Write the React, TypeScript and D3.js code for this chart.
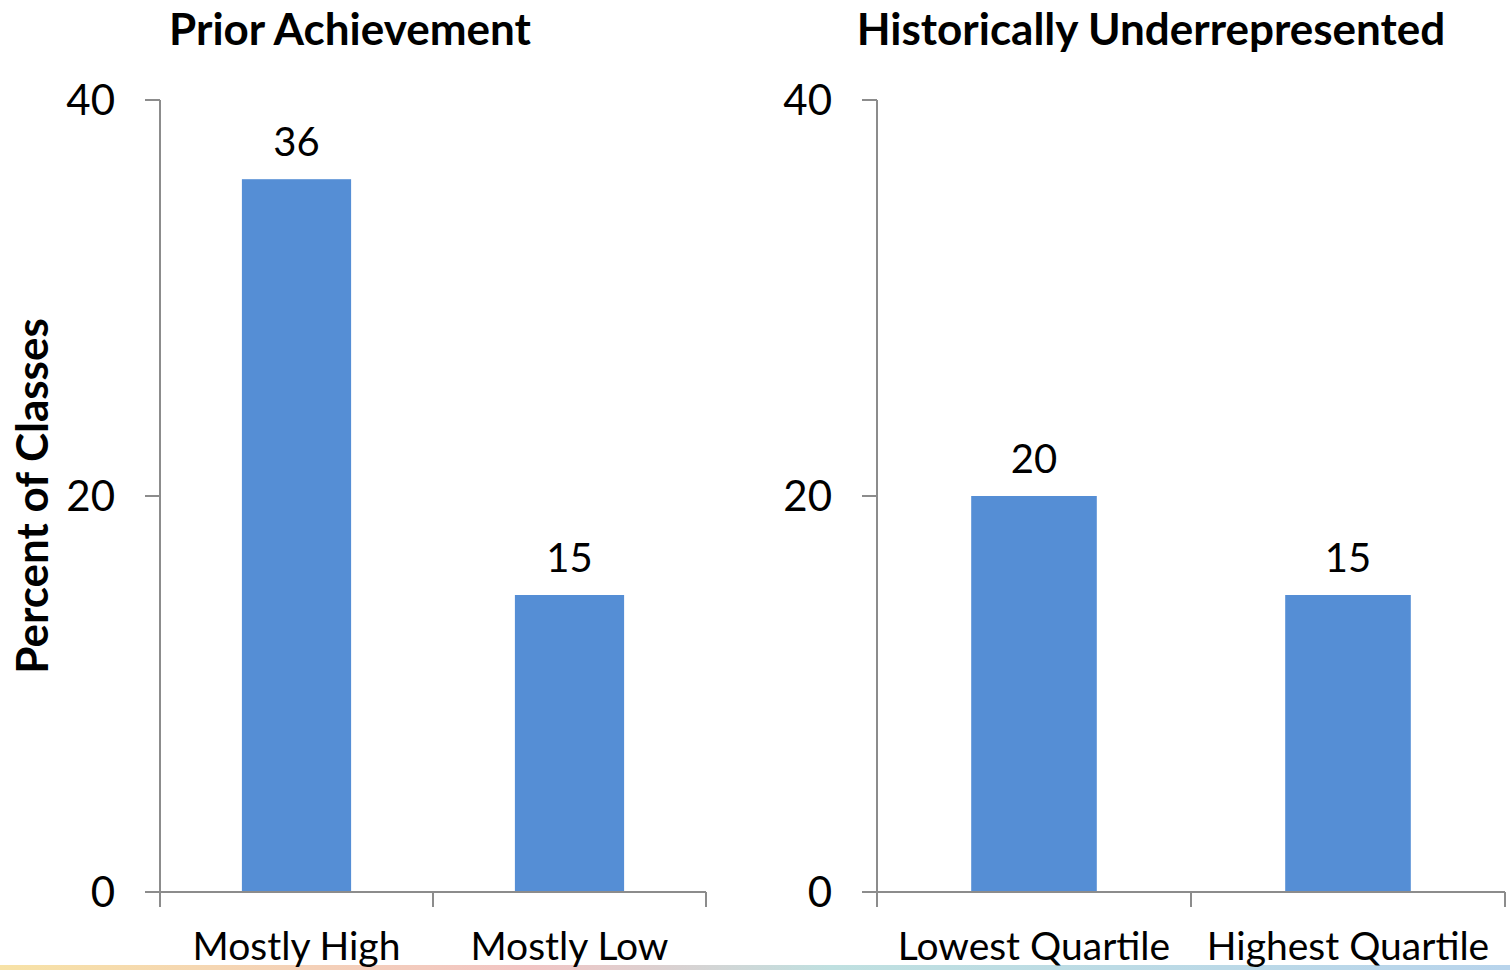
import { useEffect, useRef } from 'react';
import * as d3 from 'd3';

const priorCategories = ['Mostly High', 'Mostly Low'];
const priorValues = [36, 15];
const urmCategories = ['Lowest Quartile', 'Highest Quartile'];
const urmValues = [20, 15];
const yTicks = [0, 20, 40];

const panelTitles = ['Prior Achievement', 'Historically Underrepresented'];
const yTitle = 'Percent of Classes';

const FONT = 'Lato, "Open Sans", sans-serif';
const BAR = '#558ed5';
const AXIS = '#8c8c8c';

export default function App() {
    const svgRef = useRef<SVGSVGElement>(null);

    useEffect(() => {
        if (!svgRef.current) return;
        const svg = d3.select(svgRef.current);
        svg.selectAll('*').remove();

        const y = d3.scaleLinear().domain([0, 40]).range([892, 100]);

        // gradient strip at the bottom
        const defs = svg.append('defs');
        const grad = defs.append('linearGradient').attr('id', 'strip');
        [['0%', '#f7e2a6'], ['35%', '#f2c4c4'], ['55%', '#bfe0e0'], ['100%', '#b8d4ec']].forEach(([o, c]) => {
            grad.append('stop').attr('offset', o).attr('stop-color', c);
        });
        svg.append('rect').attr('x', 0).attr('y', 965).attr('width', 1510).attr('height', 5).attr('fill', 'url(#strip)');

        const panels = [
            { cats: priorCategories, vals: priorValues, x0: 160, x1: 706, title: panelTitles[0], titleX: 350 },
            { cats: urmCategories, vals: urmValues, x0: 877, x1: 1505, title: panelTitles[1], titleX: 1151 },
        ];

        panels.forEach(p => {
            const g = svg.append('g');
            const x = d3.scaleBand().domain(p.cats).range([p.x0, p.x1]).paddingInner(0.6).paddingOuter(0.3);
            const xb = d3.scaleBand().domain(p.cats).range([p.x0, p.x1]);

            // bars
            g.selectAll('rect.bar').data(p.vals).enter().append('rect')
                .attr('x', (_, i) => x(p.cats[i])!)
                .attr('width', x.bandwidth())
                .attr('y', d => y(d))
                .attr('height', d => y(0) - y(d))
                .attr('fill', BAR);

            // value labels
            g.selectAll('text.val').data(p.vals).enter().append('text')
                .attr('x', (_, i) => x(p.cats[i])! + x.bandwidth() / 2)
                .attr('y', d => y(d) - 23)
                .attr('text-anchor', 'middle')
                .style('font-family', FONT)
                .style('font-size', '40px')
                .style('fill', '#000')
                .text(d => d);

            // y axis
            g.append('line').attr('x1', p.x0).attr('x2', p.x0).attr('y1', y(40)).attr('y2', y(0))
                .attr('stroke', AXIS).attr('stroke-width', 2);
            yTicks.forEach(t => {
                g.append('line').attr('x1', p.x0 - 15).attr('x2', p.x0).attr('y1', y(t)).attr('y2', y(t))
                    .attr('stroke', AXIS).attr('stroke-width', 2);
                g.append('text')
                    .attr('x', p.x0 - 45)
                    .attr('y', y(t) + 15)
                    .attr('text-anchor', 'end')
                    .style('font-family', FONT)
                    .style('font-size', '42px')
                    .text(t);
            });

            // x axis
            g.append('line').attr('x1', p.x0).attr('x2', p.x1).attr('y1', y(0)).attr('y2', y(0))
                .attr('stroke', AXIS).attr('stroke-width', 2);
            [p.x0, ...p.cats.map(c => xb(c)! + xb.bandwidth())].forEach(tx => {
                g.append('line').attr('x1', tx).attr('x2', tx).attr('y1', y(0)).attr('y2', y(0) + 15)
                    .attr('stroke', AXIS).attr('stroke-width', 2);
            });
            p.cats.forEach(c => {
                g.append('text')
                    .attr('x', xb(c)! + xb.bandwidth() / 2)
                    .attr('y', 960)
                    .attr('text-anchor', 'middle')
                    .style('font-family', FONT)
                    .style('font-size', '39px')
                    .text(c);
            });

            // title
            g.append('text')
                .attr('x', p.titleX)
                .attr('y', 45)
                .attr('text-anchor', 'middle')
                .style('font-family', FONT)
                .style('font-weight', 'bold')
                .style('font-size', '44px')
                .text(p.title);
        });

        svg.append('text')
            .attr('transform', 'translate(48,496) rotate(-90)')
            .attr('text-anchor', 'middle')
            .style('font-family', FONT)
            .style('font-weight', 'bold')
            .style('font-size', '44px')
            .text(yTitle);
    }, []);

    return (
        <div style={{ position: 'absolute', left: 0, top: 0 }}>
            <svg ref={svgRef} width={1510} height={970} style={{ display: 'block', background: '#fff' }}></svg>
        </div>
    );
}
